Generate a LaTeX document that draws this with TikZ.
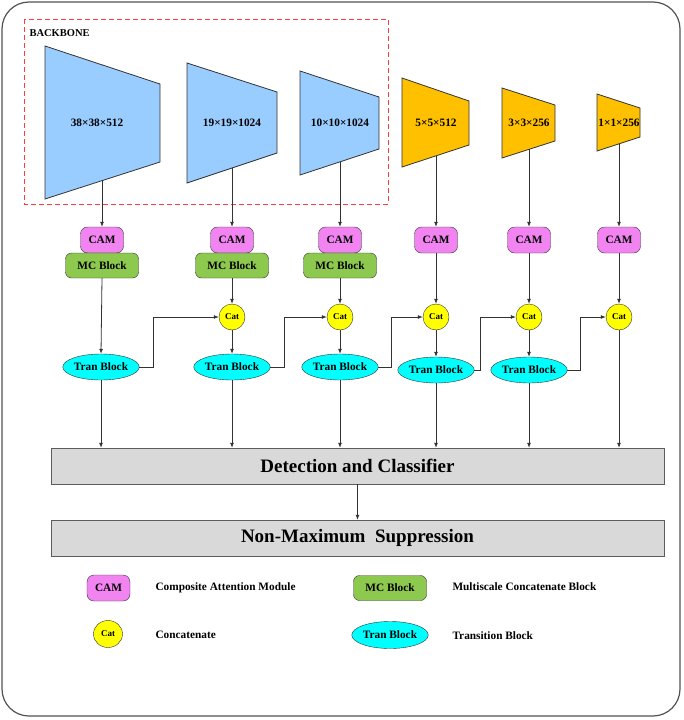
\documentclass[tikz,border=0pt]{standalone}
\usepackage{fontspec}
\setmainfont{Liberation Serif}
\usetikzlibrary{arrows.meta,shapes.geometric}

\definecolor{mapblue}{HTML}{99CCFF}
\definecolor{maporange}{HTML}{FFC000}
\definecolor{campink}{HTML}{F284F2}
\definecolor{mcgreen}{HTML}{8DC84F}
\definecolor{catyellow}{HTML}{FFFF00}
\definecolor{trancyan}{HTML}{00FFFF}
\definecolor{boxgray}{HTML}{D9D9D9}
\definecolor{linegray}{HTML}{333333}
\definecolor{dashred}{HTML}{FF3B3B}

\tikzset{
  txt/.style={font=\fontsize{11.3}{13}\selectfont\bfseries},
  fmap/.style={draw=linegray,line width=0.8pt},
  cambox/.style={txt,draw=linegray,fill=campink,rounded corners=7pt,
    minimum width=43pt,minimum height=26pt,inner sep=0pt},
  mcbox/.style={txt,draw=linegray,fill=mcgreen,rounded corners=6pt,
    minimum width=73pt,minimum height=25pt,inner sep=0pt},
  catnode/.style={draw=linegray,fill=catyellow,circle,minimum size=26pt,
    inner sep=0pt,font=\fontsize{9}{10}\selectfont\bfseries},
  trannode/.style={txt,draw=linegray,fill=trancyan,ellipse,
    minimum width=72pt,minimum height=26pt,inner sep=0pt},
  bigbox/.style={draw=linegray!80,fill=boxgray,minimum width=613pt,
    minimum height=36pt,font=\fontsize{19}{22}\selectfont\bfseries},
  link/.style={->,draw=linegray,line width=0.8pt}
}

\begin{document}
\begin{tikzpicture}[x=1pt,y=-1pt,>={Latex[length=5pt,width=4pt]}]
\useasboundingbox (0,0) rectangle (683,720);
\draw[linegray!85,line width=1.2pt,rounded corners=27pt] (2,2) rectangle (680,716);
\draw[dashred,line width=0.9pt,dash pattern=on 5pt off 3pt] (24,19) rectangle (388,204);
\node[anchor=west,font=\fontsize{10.5}{12}\selectfont\bfseries] (backbone) at (26,33) {BACKBONE};

% feature maps
\draw[fmap,fill=mapblue] (45,46) -- (160,84) -- (160,162) -- (45,199) -- cycle;
\draw[fmap,fill=mapblue] (187,63) -- (277,92) -- (277,153) -- (187,183) -- cycle;
\draw[fmap,fill=mapblue] (300,71) -- (379,97) -- (379,149) -- (300,175) -- cycle;
\draw[fmap,fill=maporange] (402,78) -- (469,101) -- (469,145) -- (402,167) -- cycle;
\draw[fmap,fill=maporange] (502,88) -- (555,105) -- (555,141) -- (502,158) -- cycle;
\draw[fmap,fill=maporange] (597,94) -- (640,108) -- (640,137) -- (597,151) -- cycle;
\node[txt] (m1) at (97,123) {38×38×512};
\node[txt] (m2) at (232,123) {19×19×1024};
\node[txt] (m3) at (340,123) {10×10×1024};
\node[txt] (m4) at (436,123) {5×5×512};
\node[txt] (m5) at (529,123) {3×3×256};
\node[txt] (m6) at (619,123) {1×1×256};
\coordinate (f1) at (102,180.7);
\coordinate (f2) at (232,168);
\coordinate (f3) at (340,161.8);
\coordinate (f4) at (436,155.8);
\coordinate (f5) at (529,149.3);
\coordinate (f6) at (619,143.8);

% attention and blocks
\node[cambox] (cam1) at (102,240) {CAM};
\node[cambox] (cam2) at (232,240) {CAM};
\node[cambox] (cam3) at (340,240) {CAM};
\node[cambox] (cam4) at (436,240) {CAM};
\node[cambox] (cam5) at (529,240) {CAM};
\node[cambox] (cam6) at (619,240) {CAM};
\node[mcbox] (mc1) at (102,265.5) {MC Block};
\node[mcbox] (mc2) at (232,265.5) {MC Block};
\node[mcbox] (mc3) at (340,265.5) {MC Block};
\node[catnode] (cat2) at (232,317) {Cat};
\node[catnode] (cat3) at (340,317) {Cat};
\node[catnode] (cat4) at (436,317) {Cat};
\node[catnode] (cat5) at (529,317) {Cat};
\node[catnode] (cat6) at (619,317) {Cat};
\node[trannode] (tran1) at (101,367) {Tran Block};
\node[trannode] (tran2) at (232,367) {Tran Block};
\node[trannode] (tran3) at (340,367) {Tran Block};
\node[trannode] (tran4) at (436,370) {Tran Block};
\node[trannode] (tran5) at (529,370) {Tran Block};

\node[bigbox] (det) at (357.5,466) {Detection and Classifier};
\node[bigbox] (nms) at (357.5,538) {Non-Maximum\ \ Suppression};

% connectors
\draw[link] (f1) -- (cam1.north);
\draw[link] (f2) -- (cam2.north);
\draw[link] (f3) -- (cam3.north);
\draw[link] (f4) -- (cam4.north);
\draw[link] (f5) -- (cam5.north);
\draw[link] (f6) -- (cam6.north);
\draw[link] (mc1.south) -- (tran1.north);
\draw[link] (mc2.south) -- (cat2.north);
\draw[link] (mc3.south) -- (cat3.north);
\draw[link] (cam4.south) -- (cat4.north);
\draw[link] (cam5.south) -- (cat5.north);
\draw[link] (cam6.south) -- (cat6.north);
\draw[link] (cat2.south) -- (tran2.north);
\draw[link] (cat3.south) -- (tran3.north);
\draw[link] (cat4.south) -- (tran4.north);
\draw[link] (cat5.south) -- (tran5.north);
\draw[link] (tran1.east) -- ++(14,0) |- (cat2.west);
\draw[link] (tran2.east) -- ++(14,0) |- (cat3.west);
\draw[link] (tran3.east) -- ++(13,0) |- (cat4.west);
\draw[link] (tran4.east) -- ++(6,0) |- (cat5.west);
\draw[link] (tran5.east) -- ++(13,0) |- (cat6.west);
\draw[link] (tran1.south) -- (tran1.south |- det.north);
\draw[link] (tran2.south) -- (tran2.south |- det.north);
\draw[link] (tran3.south) -- (tran3.south |- det.north);
\draw[link] (tran4.south) -- (tran4.south |- det.north);
\draw[link] (tran5.south) -- (tran5.south |- det.north);
\draw[link] (cat6.south) -- (cat6.south |- det.north);
\draw[link] (det.south) -- (nms.north);

% legend
\node[cambox] (kcam) at (108.5,588) {CAM};
\node[mcbox] (kmc) at (390,588) {MC Block};
\node[catnode,minimum width=29pt,minimum height=27pt,ellipse] (kcat) at (108,634) {Cat};
\node[trannode,minimum width=73pt,minimum height=27pt] (ktran) at (390,635) {Tran Block};
\node[txt,anchor=west] (kcamtxt) at (152,588) {Composite Attention Module};
\node[txt,anchor=west] (kmctxt) at (449,587) {Multiscale Concatenate Block};
\node[txt,anchor=west] (kcattxt) at (152,635) {Concatenate};
\node[txt,anchor=west] (ktrantxt) at (449,636) {Transition Block};
\end{tikzpicture}
\end{document}
